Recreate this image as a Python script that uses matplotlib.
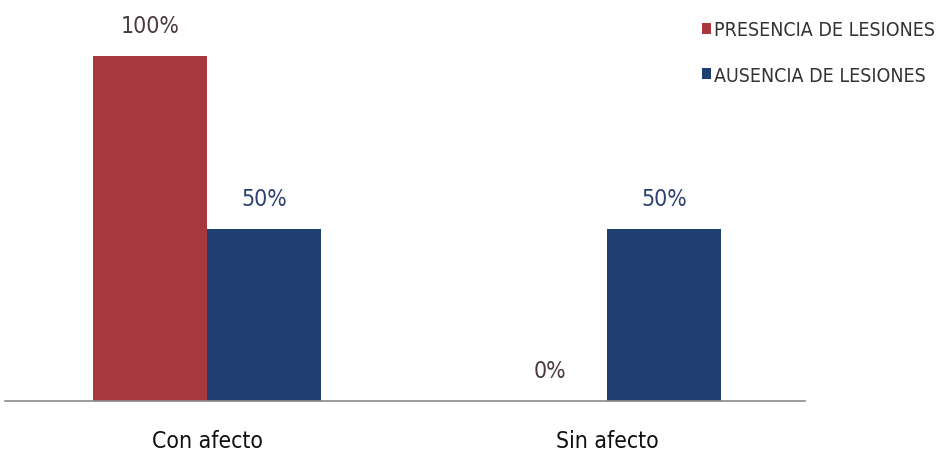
import matplotlib.pyplot as plt
import numpy as np

categorias = ['Con afecto', 'Sin afecto']
presencia = [100, 0]
ausencia = [50, 50]
series = ['PRESENCIA DE LESIONES', 'AUSENCIA DE LESIONES']

rojo = '#a8383b'
azul = '#1f3f72'

plt.rcParams['font.family'] = ['DejaVu Sans']
plt.rcParams['font.stretch'] = 'condensed'

fig = plt.figure(figsize=(9.48, 4.56), dpi=100)
ax = fig.add_axes([5 / 948, 54 / 456, 800 / 948, 345 / 456])

x = np.arange(len(categorias))
w = 0.285
b1 = ax.bar(x - w / 2, presencia, w, color=rojo, label=series[0])
b2 = ax.bar(x + w / 2, ausencia, w, color=azul, label=series[1])

# etiquetas de valor sobre cada barra
for rect, v in zip(b1, presencia):
    ax.text(rect.get_x() + rect.get_width() / 2, v + 5.5, f'{v}%',
            ha='center', va='bottom', fontsize=16.5, color='#4a3a40', clip_on=False)
for rect, v in zip(b2, ausencia):
    ax.text(rect.get_x() + rect.get_width() / 2, v + 5.5, f'{v}%',
            ha='center', va='bottom', fontsize=16.5, color='#2d4170', clip_on=False)

ax.set_xlim(-0.505, 1.495)
ax.set_ylim(0, 100)
ax.set_yticks([])
ax.set_xticks(x)
ax.set_xticklabels(categorias, fontsize=16.5, color='#111111')
ax.tick_params(axis='x', length=0, pad=20)
for s in ['top', 'right', 'left']:
    ax.spines[s].set_visible(False)
ax.spines['bottom'].set_color('#8a8a8a')
ax.spines['bottom'].set_linewidth(1.2)

fig.legend(handles=[b1, b2], loc='upper left', bbox_to_anchor=(684 / 948, 1 - 4 / 456),
           frameon=False, fontsize=14, handlelength=0.5, handleheight=0.5,
           handletextpad=0.15, labelspacing=1.35, labelcolor='#333333')

fig.savefig('out.png', dpi=100)
